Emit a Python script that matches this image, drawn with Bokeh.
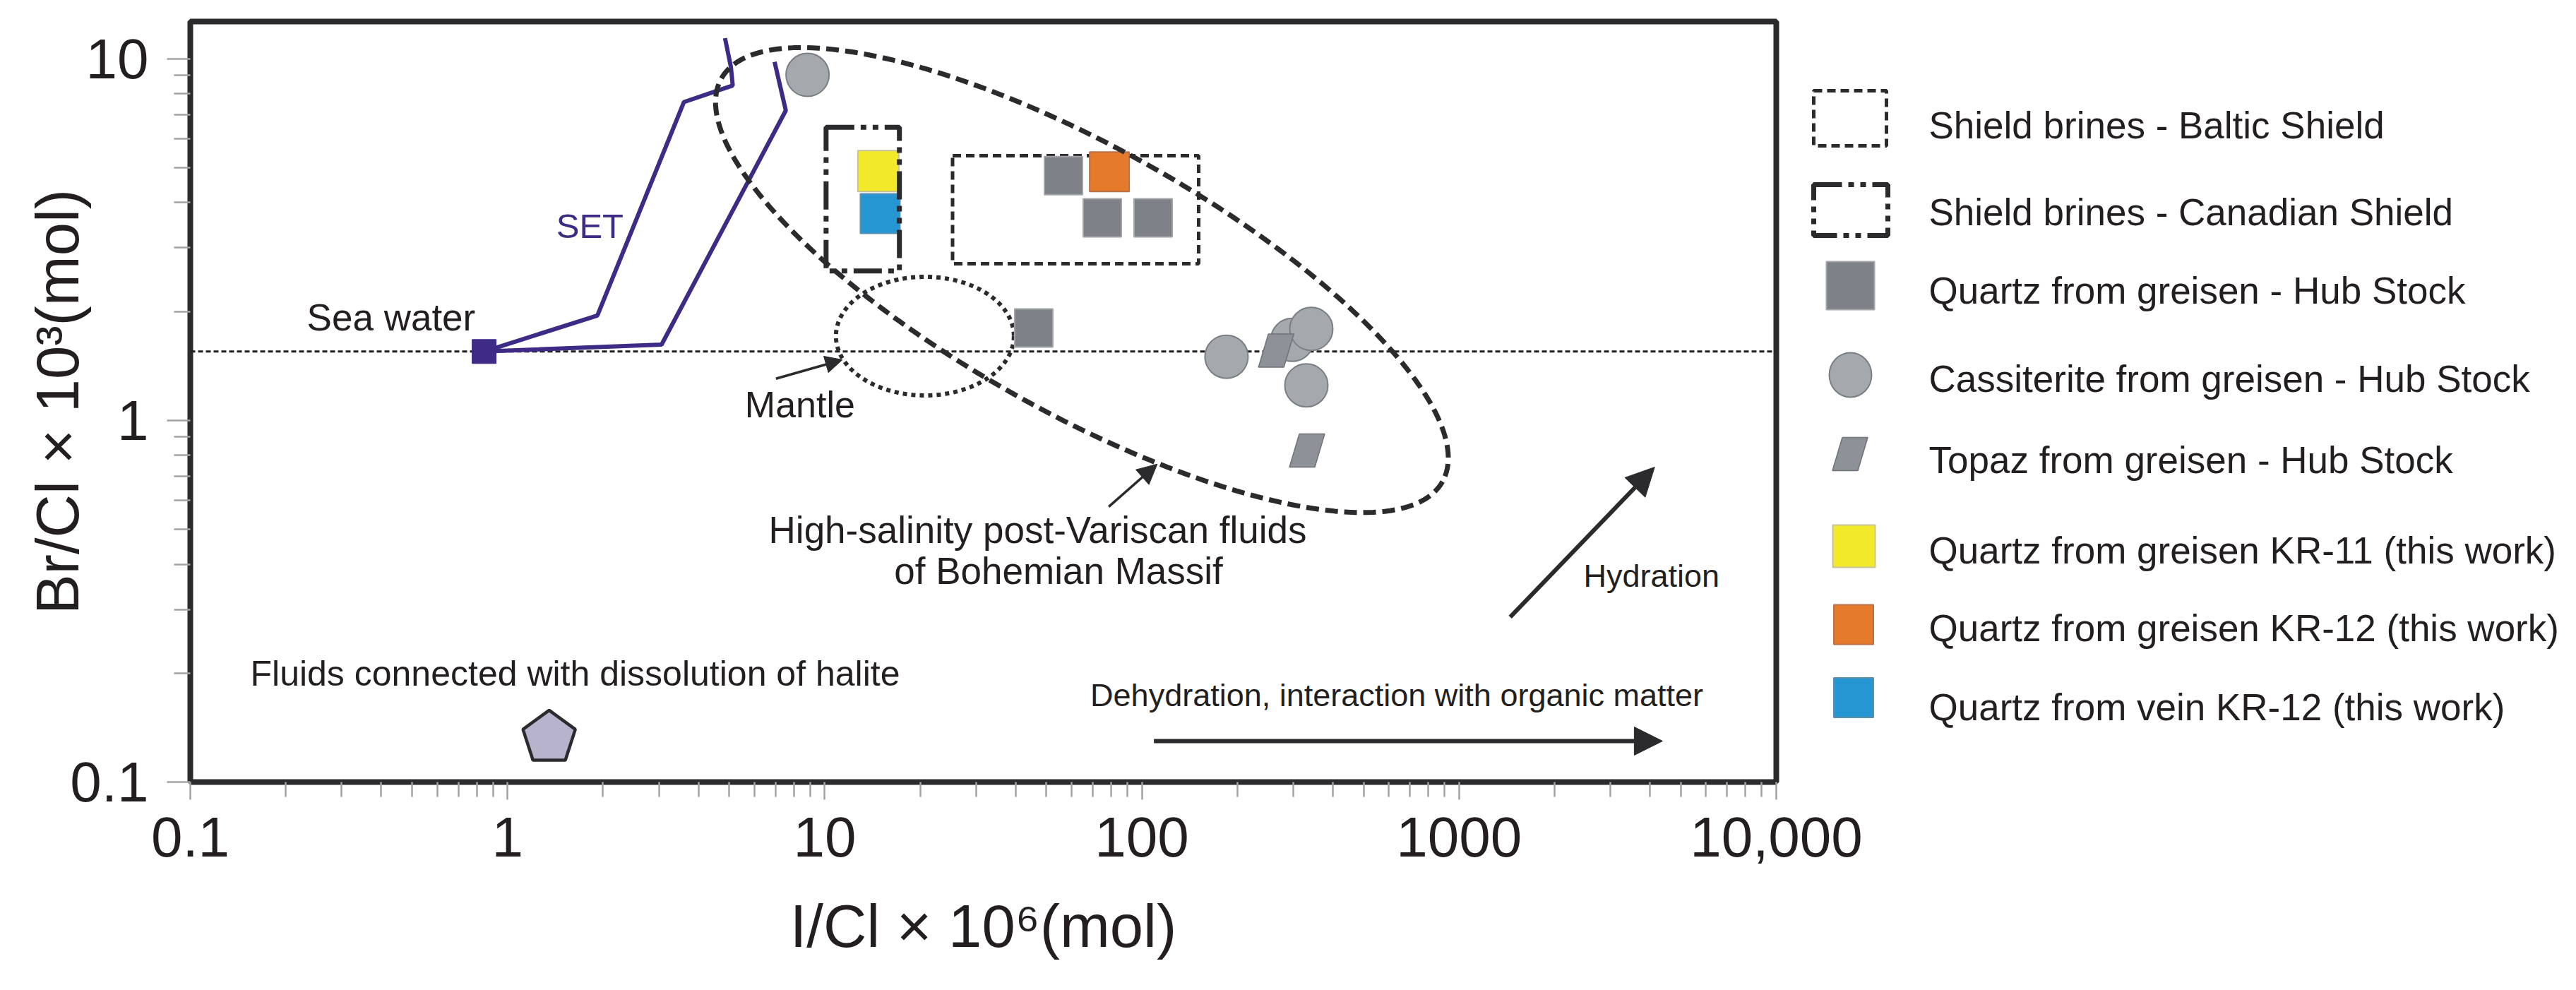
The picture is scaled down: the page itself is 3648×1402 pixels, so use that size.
import numpy as np
from bokeh.plotting import figure
from bokeh.models import (Range1d, FixedTicker, CustomJSTickFormatter, Span,
                          Arrow, NormalHead)
from bokeh.layouts import row
from bokeh.embed import file_html
from bokeh.resources import INLINE
from bokeh.core.properties import value

FONT = "Liberation Sans"
INK = "#231f20"
FRAME = "#2b2b2e"
PURPLE = "#3d2b86"
TICK = "#a3a3a3"
TXT_SHIFT = 0.28  # em, upward correction of alphabetic baseline

# ---------------- axes ----------------
X_MIN, X_MAX = 0.1, 10000
Y_MIN, Y_MAX = 0.1, 12.67
x_major = [0.1, 1, 10, 100, 1000, 10000]
x_major_labels = ["0.1", "1", "10", "100", "1000", "10,000"]
y_major = [0.1, 1, 10]
y_major_labels = ["0.1", "1", "10"]
minor_mult = [2, 3, 4, 5, 6, 7, 8, 9]
x_minor = [m * d for d in [0.1, 1, 10, 100, 1000] for m in minor_mult]
y_minor = [m * d for d in [0.1, 1] for m in minor_mult]

# ---------------- data ----------------
seawater_x = [0.844]
seawater_y = [1.55]
set_upper_x = [0.844, 1.92, 3.60, 5.13, 5.06, 4.85]
set_upper_y = [1.55, 1.95, 7.59, 8.43, 9.50, 11.4]
set_lower_x = [0.844, 3.06, 7.54, 6.95]
set_lower_y = [1.55, 1.62, 7.19, 9.80]

quartz_hub_x = [56.6, 75.0, 108.5, 45.6]
quartz_hub_y = [4.75, 3.63, 3.63, 1.80]
cass_hub_x = [8.83, 184.8, 298, 342, 330]
cass_hub_y = [9.02, 1.50, 1.67, 1.79, 1.25]
topaz_hub_x = [265, 331.6]
topaz_hub_y = [1.56, 0.825]
kr11_x, kr11_y = [14.76], [4.89]
kr12g_x, kr12g_y = [79.0], [4.87]
kr12v_x, kr12v_y = [14.96], [3.73]
halite_x, halite_y = [1.353], [0.1325]

# fields: [left, right, bottom, top]
baltic_box = [25.3, 151.0, 2.71, 5.39]
canadian_box = [10.1, 17.2, 2.59, 6.46]
mantle_center = (20.7, 1.71)
bohemian_center = (64.7, 2.443)

# ---------------- geometry ----------------
FR_LEFT, FR_TOP = 269, 30
FRAME_W, FRAME_H = 2246, 1077
PAGE_W, PAGE_H = 3648, 1402
W_MAIN = FR_LEFT + FRAME_W + 140
LEG_X0 = 2548
W_LEG = PAGE_W - LEG_X0
XPD = FRAME_W / np.log10(X_MAX / X_MIN)
YPD = FRAME_H / np.log10(Y_MAX / Y_MIN)


def offset_pts(cx, cy, dx, dy):
    dx = np.asarray(dx, float)
    dy = np.asarray(dy, float)
    return list(cx * 10 ** (dx / XPD)), list(cy * 10 ** (-dy / YPD))


def ellipse_pts(center, a, b, theta_deg=0.0, n=240):
    t = np.linspace(0, 2 * np.pi, n)
    th = np.radians(theta_deg)
    dx = a * np.cos(t) * np.cos(th) - b * np.sin(t) * np.sin(th)
    dy = a * np.cos(t) * np.sin(th) + b * np.sin(t) * np.cos(th)
    return offset_pts(center[0], center[1], dx, dy)


def pentagon_offsets(r):
    ang = np.radians(-90 + 72 * np.arange(5))
    return r * np.cos(ang), r * np.sin(ang)


def yoff(fs):
    return -round(TXT_SHIFT * fs)


PARA_DX = [-11, 25, 11, -25]
PARA_DY = [-23.5, -23.5, 23.5, 23.5]

p = figure(width=W_MAIN, height=PAGE_H, x_axis_type="log", y_axis_type="log",
           x_range=Range1d(X_MIN, X_MAX), y_range=Range1d(Y_MIN, Y_MAX),
           output_backend="svg", toolbar_location=None,
           min_border_left=FR_LEFT, min_border_right=W_MAIN - FR_LEFT - FRAME_W,
           min_border_top=FR_TOP, min_border_bottom=PAGE_H - FR_TOP - FRAME_H)
p.xgrid.visible = False
p.ygrid.visible = False
p.outline_line_color = FRAME
p.outline_line_width = 8
p.background_fill_color = "white"
p.border_fill_color = "white"

fmt_code = """
for (let i = 0; i < vals.length; i++) {
  if (Math.abs(Math.log10(vals[i]) - Math.log10(tick)) < 1e-6) return labs[i];
}
return "";
"""
xa = p.xaxis[0]
xa.ticker = FixedTicker(ticks=x_major, minor_ticks=x_minor)
xa.formatter = CustomJSTickFormatter(args=dict(vals=x_major, labs=x_major_labels), code=fmt_code)
xa.major_tick_out, xa.major_tick_in = 25, 0
xa.minor_tick_out, xa.minor_tick_in = 21, 0
xa.major_label_standoff = 25
xa.axis_label = "I/Cl × 10⁶(mol)"
xa.axis_label_standoff = 48

ya = p.yaxis[0]
ya.ticker = FixedTicker(ticks=y_major, minor_ticks=y_minor)
ya.formatter = CustomJSTickFormatter(args=dict(vals=y_major, labs=y_major_labels), code=fmt_code)
ya.major_tick_out, ya.major_tick_in = 33, 0
ya.minor_tick_out, ya.minor_tick_in = 23, 0
ya.major_label_standoff = 26
ya.axis_label = "Br/Cl × 10³(mol)"
ya.axis_label_standoff = -33

for ax in (xa, ya):
    ax.axis_line_color = None
    ax.major_tick_line_color = TICK
    ax.minor_tick_line_color = TICK
    ax.major_tick_line_width = 2.5
    ax.minor_tick_line_width = 2.5
    ax.major_label_text_font = FONT
    ax.major_label_text_font_size = "80px"
    ax.major_label_text_color = INK
    ax.axis_label_text_font = FONT
    ax.axis_label_text_font_size = "85px"
    ax.axis_label_text_font_style = "normal"
    ax.axis_label_text_color = INK

# sea-water reference line
p.add_layout(Span(location=seawater_y[0], dimension="width", line_color=INK,
                  line_width=3, line_dash="7 4", level="underlay"))

# mantle field
mx, my = ellipse_pts(mantle_center, 126, 84)
p.line(mx, my, line_color=FRAME, line_width=6, line_dash="6 6")

# Baltic shield brines
p.quad(left=[baltic_box[0]], right=[baltic_box[1]], bottom=[baltic_box[2]], top=[baltic_box[3]],
       fill_color=None, line_color=FRAME, line_width=5, line_dash="12 7")

# SET trends
p.line(set_upper_x, set_upper_y, line_color=PURPLE, line_width=6)
p.line(set_lower_x, set_lower_y, line_color=PURPLE, line_width=6)
p.scatter(seawater_x, seawater_y, marker="square", size=34, fill_color=PURPLE, line_color=PURPLE)

# Hub Stock data
p.scatter(quartz_hub_x, quartz_hub_y, marker="square", size=54,
          fill_color="#7e8187", line_color="#a2a4a8", line_width=2)
p.scatter(cass_hub_x, cass_hub_y, marker="circle", size=61,
          fill_color="#a5a8ad", line_color="#7b7e83", line_width=2)
txs, tys = [], []
for tx, ty in zip(topaz_hub_x, topaz_hub_y):
    a, b = offset_pts(tx, ty, PARA_DX, PARA_DY)
    txs.append(a)
    tys.append(b)
p.patches(txs, tys, fill_color="#8e9198", line_color="#6f7278", line_width=1.5)

# this work
p.scatter(kr11_x, kr11_y, marker="square", size=58, fill_color="#f2e92b", line_color="#c9c39a", line_width=2)
p.scatter(kr12v_x, kr12v_y, marker="square", size=56, fill_color="#2596d2", line_color="#5b8fb1", line_width=2)
p.scatter(kr12g_x, kr12g_y, marker="square", size=56, fill_color="#e57a2b", line_color="#b9714a", line_width=2)

# Canadian shield brines
p.quad(left=[canadian_box[0]], right=[canadian_box[1]], bottom=[canadian_box[2]], top=[canadian_box[3]],
       fill_color=None, line_color=FRAME, line_width=7, line_dash="40 9 8 9 8 9")

# Bohemian Massif high-salinity fluids
bx, by = ellipse_pts(bohemian_center, 585, 188, 29.2)
p.line(bx, by, line_color=FRAME, line_width=7, line_dash="18 9")

# halite dissolution
pdx, pdy = pentagon_offsets(39)
hx, hy = offset_pts(halite_x[0], halite_y[0], pdx, pdy)
p.patch(hx, hy, fill_color="#b8b3cc", line_color=FRAME, line_width=4.5)

# arrows: x_start, y_start, x_end, y_end, width, head
arrows = [
    (109.1, 0.1298, 4379, 0.1298, 6, 40),
    (1449, 0.2858, 4135, 0.7427, 6, 40),
    (7.02, 1.304, 11.37, 1.471, 3.5, 24),
    (78.6, 0.5772, 111.8, 0.7571, 3.5, 28),
]
for xs_, ys_, xe_, ye_, lw, hs in arrows:
    p.add_layout(Arrow(end=NormalHead(size=hs, fill_color=FRAME, line_color=FRAME, line_width=1),
                       x_start=xs_, y_start=ys_, x_end=xe_, y_end=ye_,
                       line_color=FRAME, line_width=lw))

# annotation texts
ann_text = ["Sea water", "Mantle", "Fluids connected with dissolution of halite",
            "Dehydration, interaction with organic matter", "Hydration"]
ann_x = [0.2331, 5.602, 0.1546, 68.78, 2466]
ann_y = [1.80, 1.0357, 0.1876, 0.164, 0.3505]
ann_fs = [53, 52, 50, 45, 45]
p.text(x=ann_x, y=ann_y, text=ann_text, text_font=value(FONT),
       text_font_size=[f"{f}px" for f in ann_fs], y_offset=[yoff(f) for f in ann_fs],
       text_color=INK, text_align="left", text_baseline="alphabetic")
p.text(x=[1.4245], y=[3.244], text=["SET"], text_font=value(FONT), text_font_size="49px",
       y_offset=yoff(49), text_color=PURPLE, text_align="left", text_baseline="alphabetic")
p.text(x=[46.94, 54.6], y=[0.4653, 0.3584],
       text=["High-salinity post-Variscan fluids", "of Bohemian Massif"],
       text_font=value(FONT), text_font_size="53px", y_offset=yoff(53), text_color=INK,
       text_align="center", text_baseline="alphabetic")

# ---------------- legend panel (coordinates = page pixels, x offset LEG_X0) ----------------
lg = figure(width=W_LEG, height=PAGE_H, x_range=Range1d(0, W_LEG),
            y_range=Range1d(FR_TOP + FRAME_H, FR_TOP),
            output_backend="svg", toolbar_location=None,
            min_border_left=0, min_border_right=0,
            min_border_top=FR_TOP, min_border_bottom=PAGE_H - FR_TOP - FRAME_H,
            x_axis_type=None, y_axis_type=None,
            margin=(0, 0, 0, LEG_X0 - W_MAIN))
lg.outline_line_color = None
lg.background_fill_color = None
lg.border_fill_color = None

legend_labels = ["Shield brines - Baltic Shield", "Shield brines - Canadian Shield",
                 "Quartz from greisen - Hub Stock", "Cassiterite from greisen - Hub Stock",
                 "Topaz from greisen - Hub Stock", "Quartz from greisen KR-11 (this work)",
                 "Quartz from greisen KR-12 (this work)", "Quartz from vein KR-12 (this work)"]
legend_baselines = [192, 315, 426, 551, 666, 794, 904, 1016]

lg.quad(left=[20], right=[123], top=[128], bottom=[206], fill_color=None,
        line_color=FRAME, line_width=5, line_dash="12 7")
lg.quad(left=[20], right=[125], top=[261], bottom=[333], fill_color=None,
        line_color=FRAME, line_width=7, line_dash="40 9 8 9 8 9")
lg.scatter([72], [404], marker="square", size=68, fill_color="#7e8187", line_color="#a2a4a8", line_width=2)
lg.ellipse([72], [530.5], width=60, height=63, fill_color="#a5a8ad", line_color="#7b7e83", line_width=2)
lg.patch([71.5 + d for d in PARA_DX], [642.5 + d for d in PARA_DY],
         fill_color="#8e9198", line_color="#6f7278", line_width=1.5)
lg.scatter([77], [773], marker="square", size=60, fill_color="#f2e92b", line_color="#c9c39a", line_width=2)
lg.scatter([76.5], [884], marker="square", size=56, fill_color="#e57a2b", line_color="#b9714a", line_width=2)
lg.scatter([76.5], [987.6], marker="square", size=56, fill_color="#2596d2", line_color="#5b8fb1", line_width=2)
lg.text(x=[183] * len(legend_labels), y=legend_baselines, text=legend_labels,
        text_font=value(FONT), text_font_size="53px", y_offset=yoff(53), text_color=INK,
        text_align="left", text_baseline="alphabetic")

layout = row(p, lg)
open("out.html", "w").write(file_html(layout, INLINE))
